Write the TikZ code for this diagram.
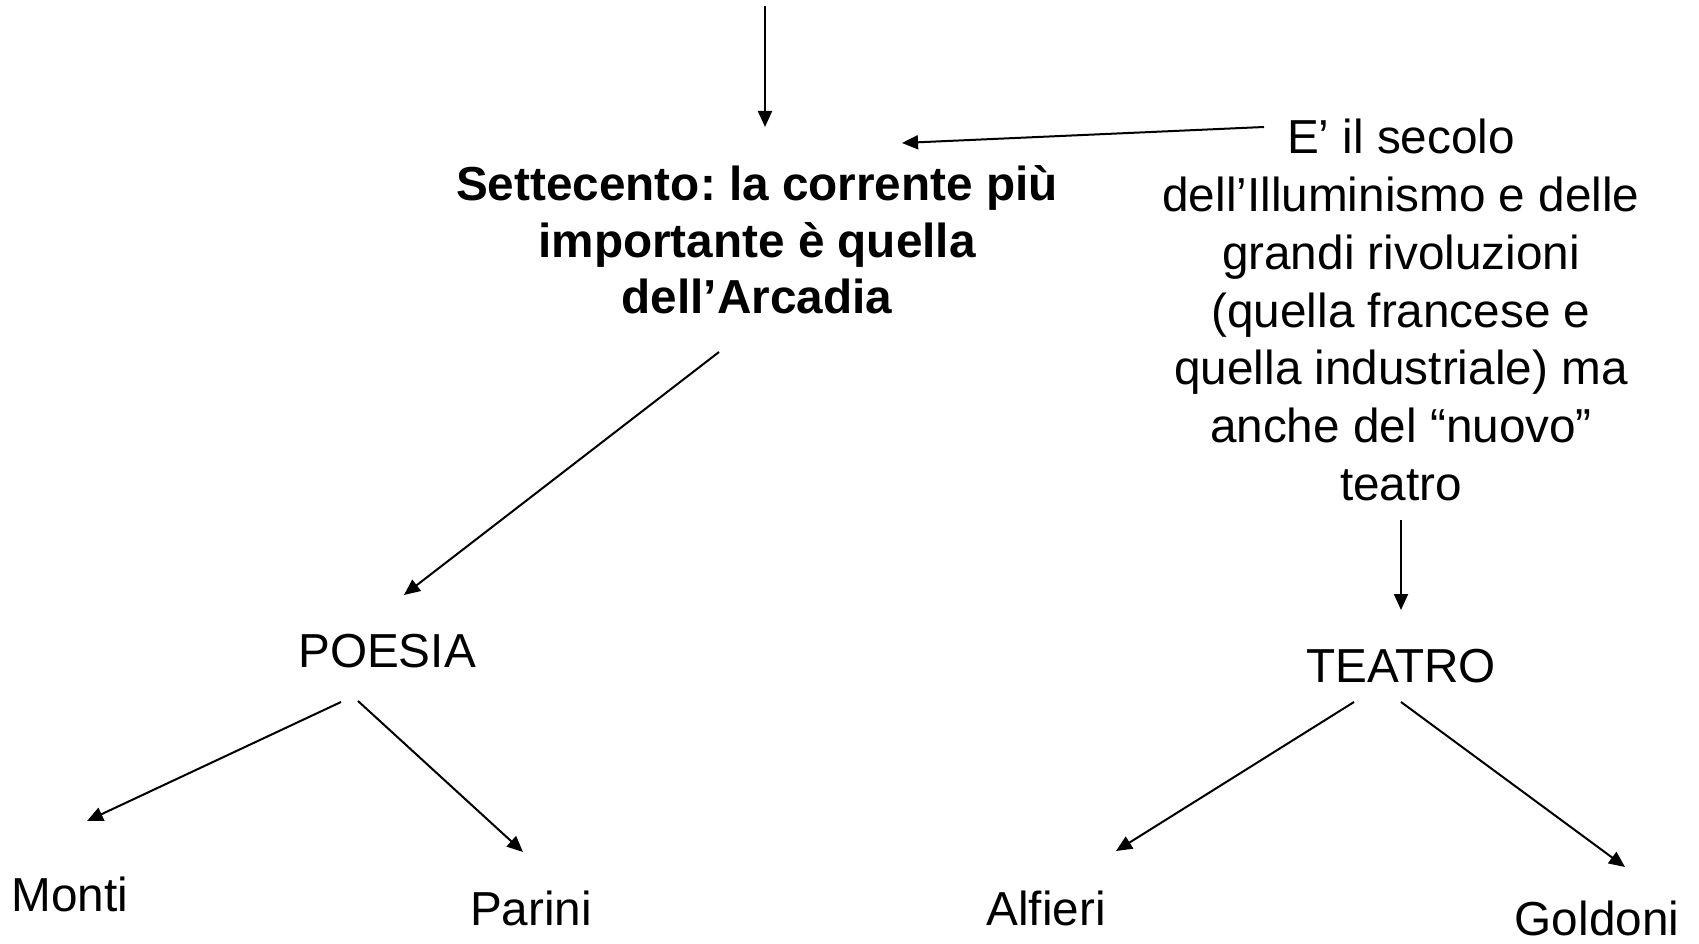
\documentclass[tikz,border=0pt]{standalone}
\usepackage{fontspec}
\setmainfont{Liberation Sans}
\usetikzlibrary{arrows.meta}
\begin{document}
\frenchspacing
\begin{tikzpicture}[x=1pt,y=-1pt,
  txt/.style={inner sep=0pt,align=center,font=\fontsize{47.7}{57.7}\selectfont},
  btxt/.style={txt,font=\fontsize{47.7}{56.5}\selectfont\bfseries},
  arr/.style={line width=2pt,-{Triangle[length=16pt,width=14pt]}}]
\useasboundingbox (0,0) rectangle (1699,944);
\node[btxt] (sett) at (757,240) {Settecento: la corrente più\\importante è quella\\dell’Arcadia};
\node[txt] (secolo) at (1401,310) {E’ il secolo\\dell’Illuminismo e delle\\grandi rivoluzioni\\(quella francese e\\quella industriale) ma\\anche del “nuovo”\\teatro};
\node[txt] (poesia) at (387,651) {POESIA};
\node[txt] (teatro) at (1401,666) {TEATRO};
\node[txt] (monti) at (70,894) {Monti};
\node[txt] (parini) at (531,908) {Parini};
\node[txt] (alfieri) at (1046,908) {Alfieri};
\node[txt] (goldoni) at (1597,918) {Goldoni};
\coordinate (topstart) at (765,6);
\coordinate (topend) at (765,127);
\coordinate (s1) at (1264,127);
\coordinate (s2) at (902,143);
\coordinate (a1) at (719,352);
\coordinate (a2) at (404,595);
\coordinate (t1) at (1401,520);
\coordinate (t2) at (1401,610);
\coordinate (m1) at (341,702);
\coordinate (m2) at (87,821);
\coordinate (p1) at (358,701);
\coordinate (p2) at (523,852);
\coordinate (al1) at (1354,702);
\coordinate (al2) at (1116,851);
\coordinate (g1) at (1401,702);
\coordinate (g2) at (1625,867);
\draw[arr] (topstart) -- (topend);
\draw[arr] (s1) -- (s2);
\draw[arr] (a1) -- (a2);
\draw[arr] (t1) -- (t2);
\draw[arr] (m1) -- (m2);
\draw[arr] (p1) -- (p2);
\draw[arr] (al1) -- (al2);
\draw[arr] (g1) -- (g2);
\end{tikzpicture}
\end{document}
